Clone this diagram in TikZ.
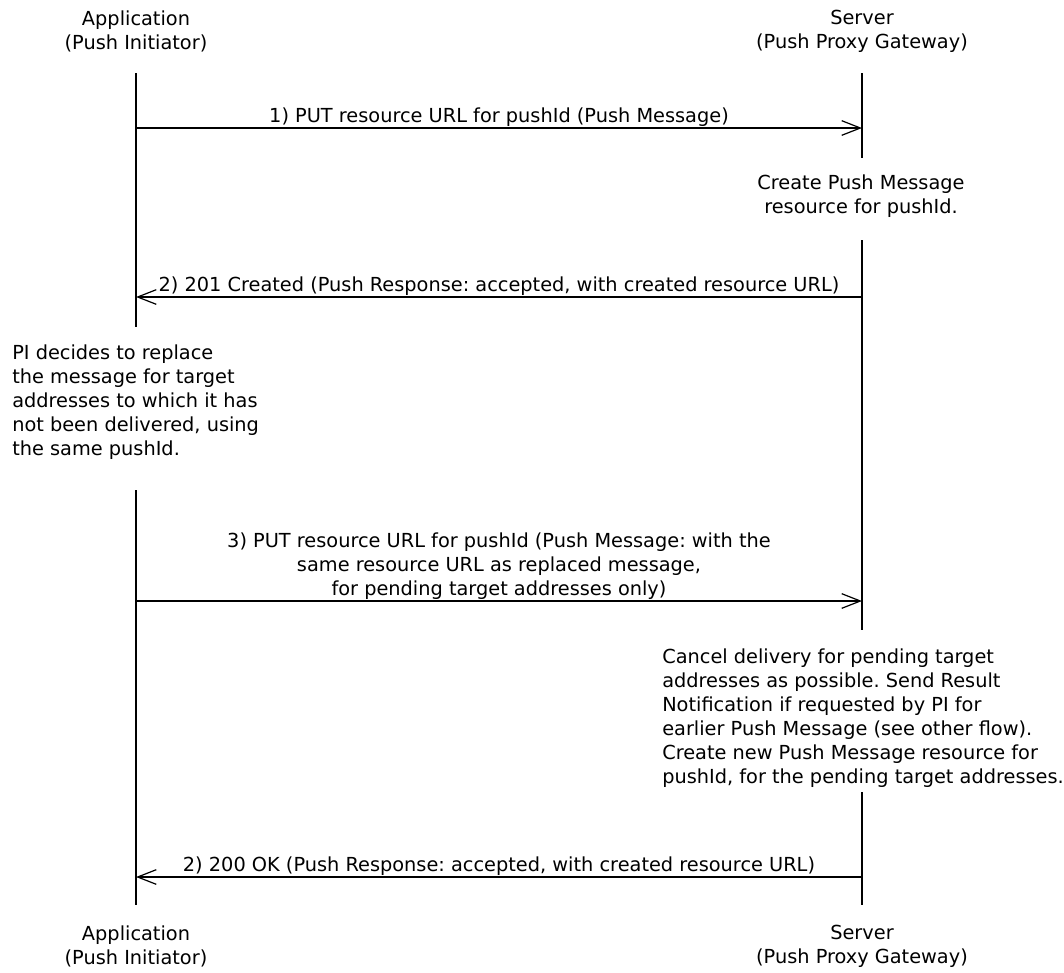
\documentclass[tikz,border=0pt]{standalone}
\usepackage{fontspec}
\setmainfont{DejaVu Sans}
\usetikzlibrary{arrows.meta, positioning}
\frenchspacing

\begin{document}
\begin{tikzpicture}[x=0.75pt, y=-0.75pt, font=\fontsize{14.5}{18}\selectfont,
  actor/.style={align=center, inner sep=0pt},
  msg/.style={-{Straight Barb[length=14pt, width=11pt]}, line width=0.9pt},
  life/.style={line width=0.9pt},
  lbl/.style={above, align=center, inner sep=1pt},
  note/.style={align=left, inner sep=0pt, anchor=north west}]
  \useasboundingbox (0,0) rectangle (1064,972);

  % ---- Actors ----
  \node[actor] (appTop) at (136,31)  {Application\\(Push Initiator)};
  \node[actor] (srvTop) at (862,31)  {Server\\(Push Proxy Gateway)};
  \node[actor] (appBot) at (136,946) {Application\\(Push Initiator)};
  \node[actor] (srvBot) at (862,946) {Server\\(Push Proxy Gateway)};

  % ---- Lifelines (broken where notes sit) ----
  \foreach \n/\x/\ya/\yb in {appA/136/73/327, appB/136/490/905,
      srvA/862/73/158, srvB/862/240/630, srvC/862/792/905} {
    \coordinate (\n s) at (\x,\ya);
    \coordinate (\n e) at (\x,\yb);
    \draw[life] (\n s) -- (\n e);
  }

  % ---- Message ends ----
  \coordinate (a1) at (136,128); \coordinate (s1) at (862,128);
  \coordinate (a2) at (136,297); \coordinate (s2) at (862,297);
  \coordinate (a3) at (136,601); \coordinate (s3) at (862,601);
  \coordinate (a4) at (136,877); \coordinate (s4) at (862,877);

  % ---- Messages ----
  \draw[msg] (a1) -- node[lbl] {1) PUT resource URL for pushId (Push Message)} (s1);
  \draw[msg] (s2) -- node[lbl] {2) 201 Created (Push Response: accepted, with created resource URL)} (a2);
  \draw[msg] (a3) -- node[lbl] {3) PUT resource URL for pushId (Push Message: with the\\
      same resource URL as replaced message,\\for pending target addresses only)} (s3);
  \draw[msg] (s4) -- node[lbl] {2) 200 OK (Push Response: accepted, with created resource URL)} (a4);

  % ---- Notes ----
  \node[align=center, inner sep=0pt, anchor=north] (create) at (861,175)
    {Create Push Message\\resource for pushId.};
  \node[note] (decide) at (12,345) {PI decides to replace\\the message for target\\
    addresses to which it has\\not been delivered, using\\the same pushId.};
  \node[note] (cancel) at (662,649) {Cancel delivery for pending target\\
    addresses as possible. Send Result\\Notification if requested by PI for\\
    earlier Push Message (see other flow).\\Create new Push Message resource for\\
    pushId, for the pending target addresses.};
\end{tikzpicture}
\end{document}
